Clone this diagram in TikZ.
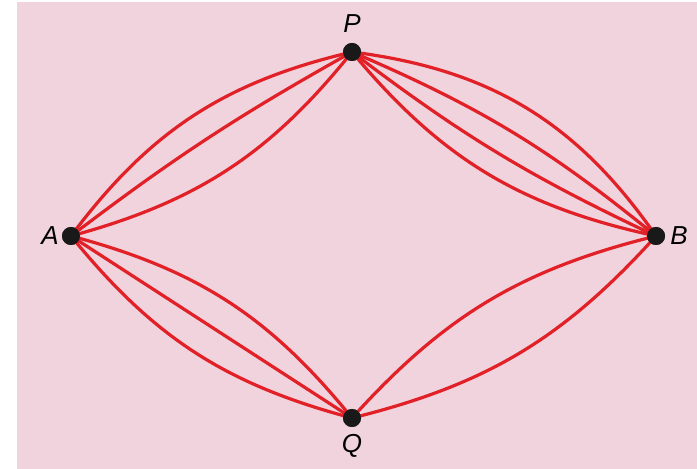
\documentclass[tikz,border=0pt]{standalone}
\usepackage{fontspec}
\setmainfont{Liberation Sans}
\definecolor{bgpink}{RGB}{240,211,220}
\definecolor{pathred}{RGB}{226,32,40}
\begin{document}
\begin{tikzpicture}[x=1pt, y=1pt,
  every node/.style={font=\fontsize{26}{29}\selectfont\itshape},
  dot/.style={circle, fill=black!90, inner sep=0pt, minimum size=18pt},
  route/.style={draw=pathred, line width=3.2pt}]
  % page and pink panel
  \useasboundingbox (0,0) rectangle (697,469);
  \fill[bgpink] (17,0) rectangle (697,467);

  % stations
  \node[dot] (A) at (71,233) {};
  \node[dot] (P) at (352,417) {};
  \node[dot] (Q) at (352,51) {};
  \node[dot] (B) at (656,233) {};

  % routes A to P
  \draw[route] (A.center) to[bend left=20] (P.center);
  \draw[route] (A.center) to[bend left=4] (P.center);
  \draw[route] (A.center) to[bend right=18] (P.center);

  % routes A to Q
  \draw[route] (A.center) to[bend right=18] (Q.center);
  \draw[route] (A.center) -- (Q.center);
  \draw[route] (A.center) to[bend left=18] (Q.center);

  % routes P to B
  \draw[route] (P.center) to[bend left=24] (B.center);
  \draw[route] (P.center) to[bend left=8] (B.center);
  \draw[route] (P.center) to[bend right=6] (B.center);
  \draw[route] (P.center) to[bend right=19] (B.center);

  % routes Q to B
  \draw[route] (Q.center) to[bend right=17] (B.center);
  \draw[route] (Q.center) to[bend left=17] (B.center);

  % redraw dots over the routes
  \foreach \s in {A,P,Q,B}
    \fill[black!90] (\s.center) circle (9pt);

  % labels
  \node (labA) at (50,233) {A};
  \node (labP) at (352,445) {P};
  \node (labQ) at (352,23) {Q};
  \node (labB) at (679,233) {B};
\end{tikzpicture}
\end{document}
